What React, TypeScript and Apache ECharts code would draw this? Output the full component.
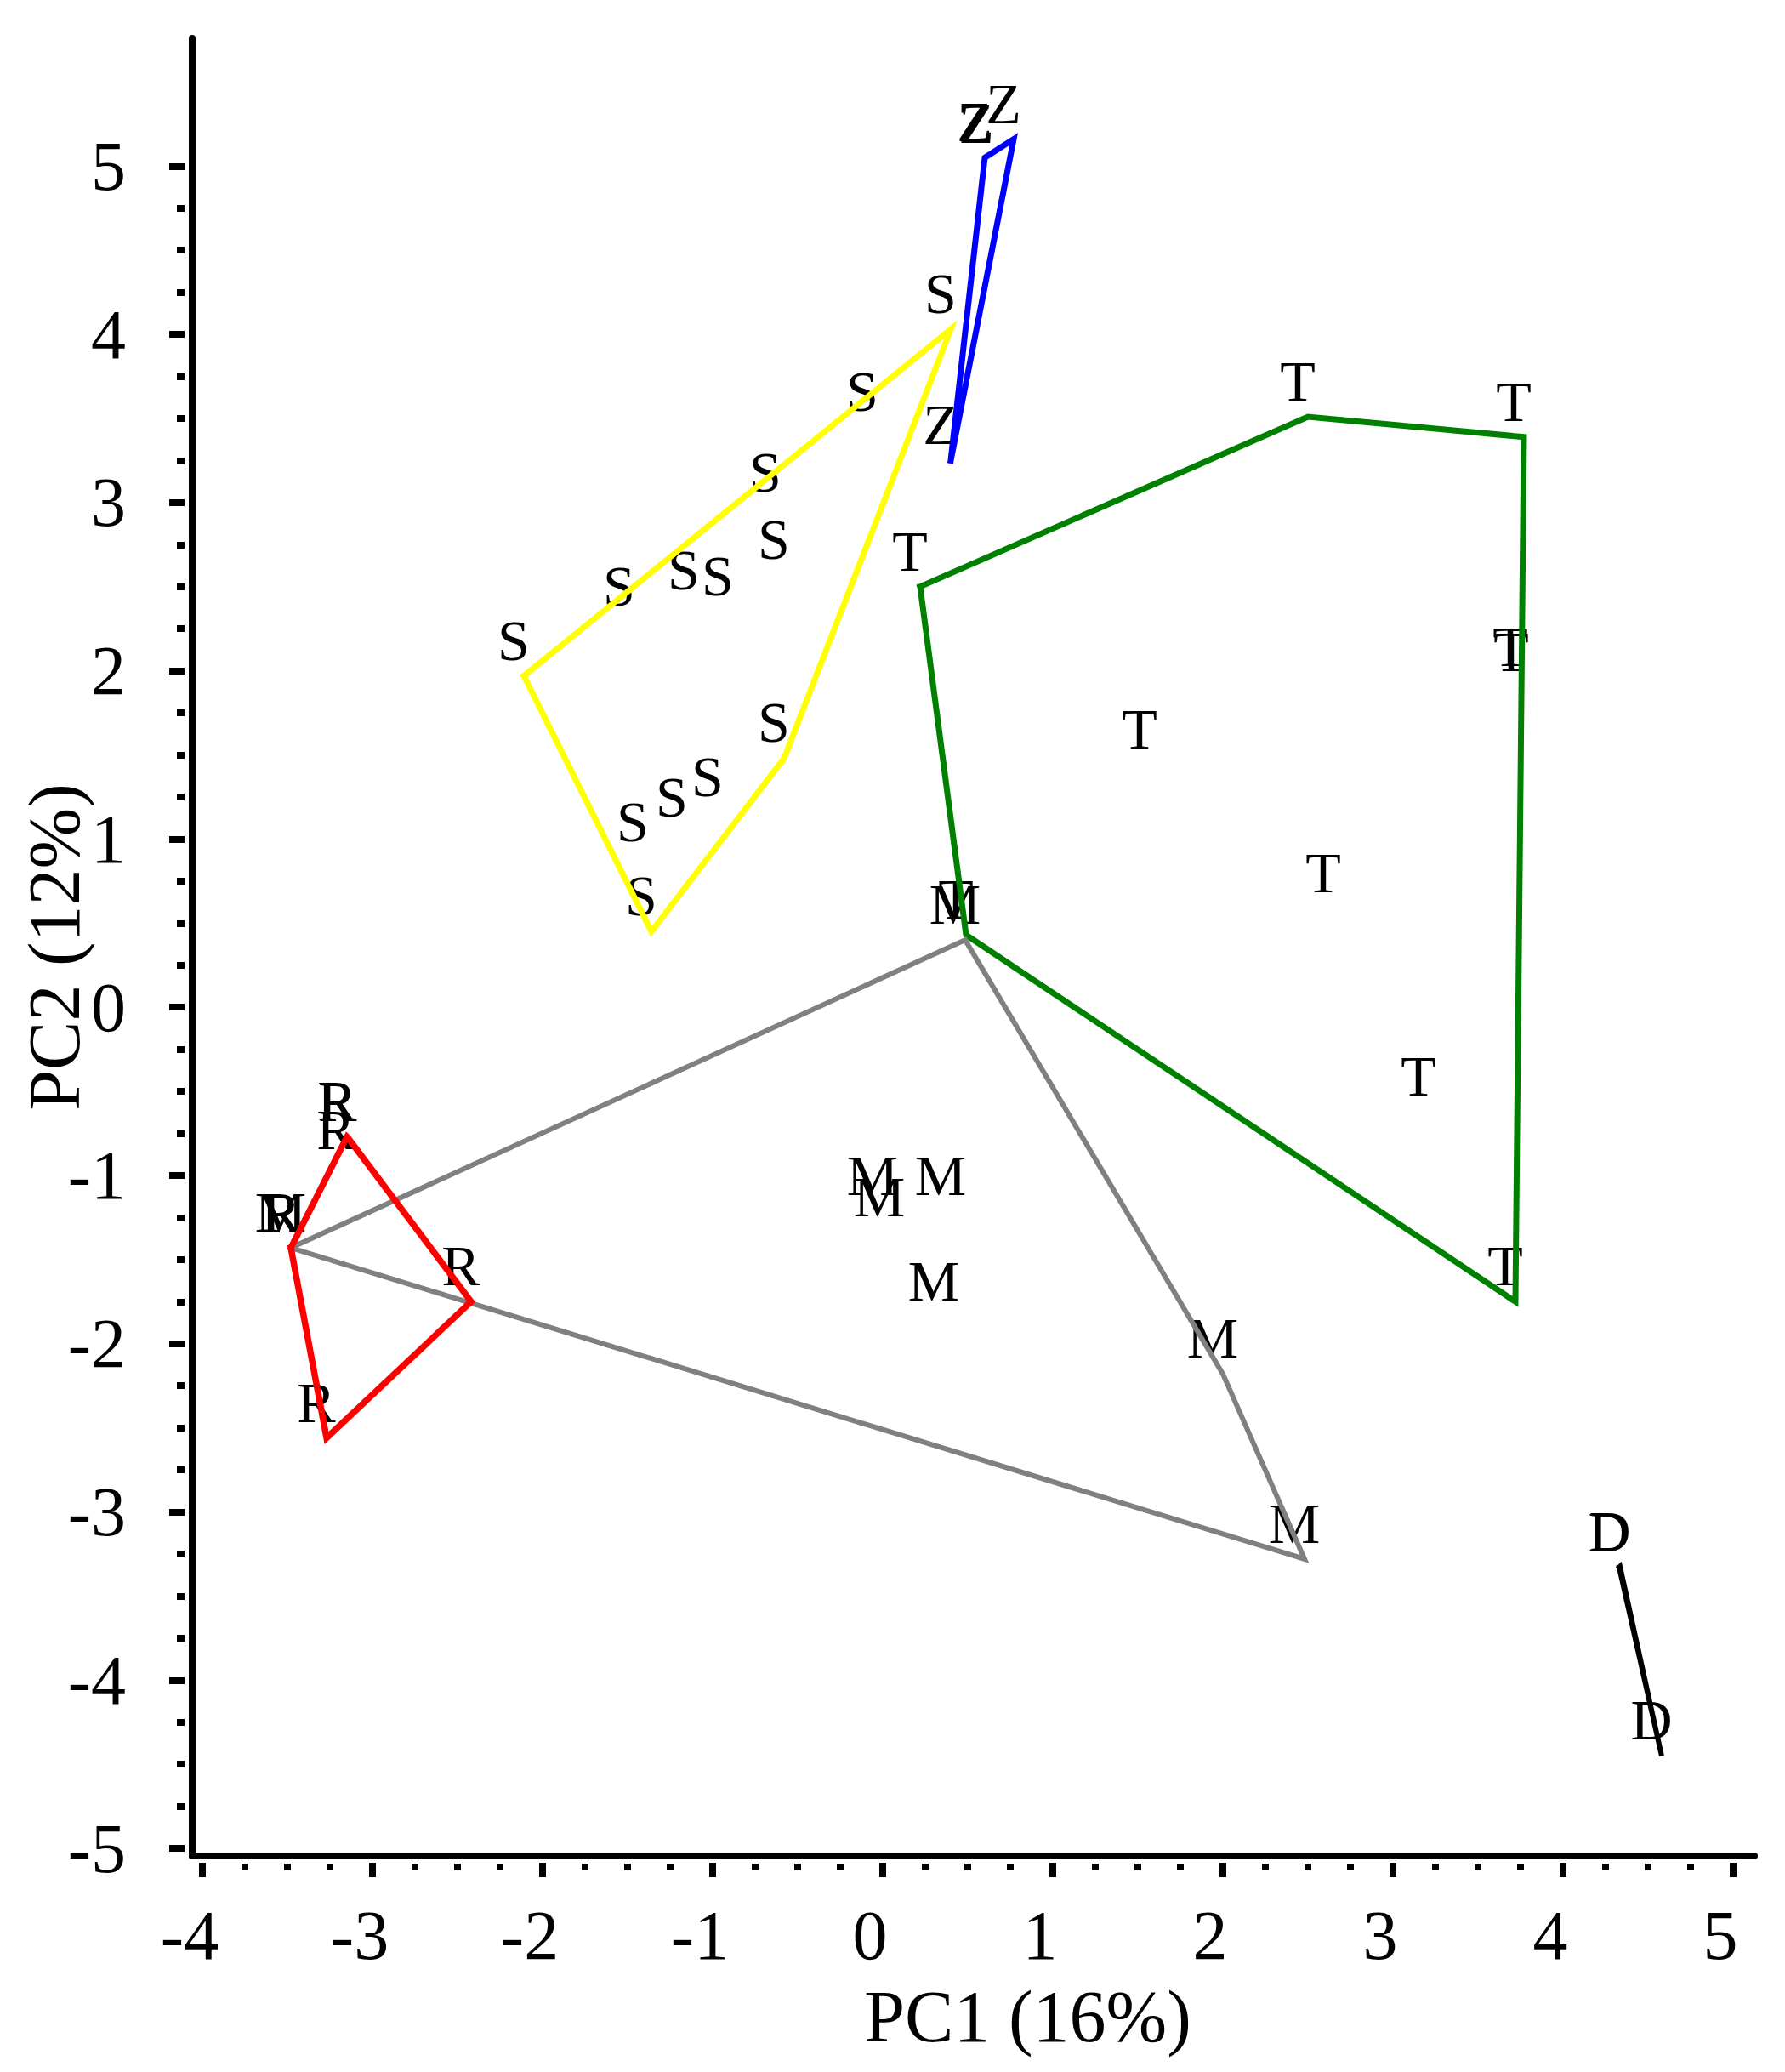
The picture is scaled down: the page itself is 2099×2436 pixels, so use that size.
import React, { useEffect, useRef } from 'react';
import * as echarts from 'echarts';

// ---- data (PC1, PC2) per group ----
const sPoints = [
  [-2.11, 1.97], [0.40, 4.03], [-0.06, 3.45], [-0.63, 2.97], [-0.58, 2.57],
  [-1.49, 2.29], [-1.11, 2.39], [-0.91, 2.35], [-0.58, 1.48], [-0.97, 1.16],
  [-1.18, 1.04], [-1.41, 0.89], [-1.36, 0.45],
];
const zPoints = [[0.61, 5.04], [0.60, 5.05], [0.77, 5.16], [0.40, 3.25]];
const tPoints = [
  [2.50, 3.51], [3.77, 3.39], [0.22, 2.50], [3.755, 1.90], [3.75, 1.93],
  [1.57, 1.44], [2.65, 0.59], [0.49, 0.43], [3.21, -0.62], [3.72, -1.75],
];
const mPoints = [
  [0.485, 0.40], [0.0, -1.21], [0.04, -1.34], [0.40, -1.21], [0.36, -1.84],
  [2.00, -2.18], [2.48, -3.28], [-3.48, -1.43],
];
const rPoints = [
  [-3.48, -1.43], [-3.475, -1.435], [-3.15, -0.77], [-3.145, -0.775], [-3.155, -0.94],
  [-2.42, -1.75], [-3.27, -2.56],
];
const dPoints = [[4.33, -3.33], [4.335, -3.325], [4.58, -4.45]];

const groupLetters = ['S', 'Z', 'T', 'M', 'R', 'D'];
const groupPoints = [sPoints, zPoints, tPoints, mPoints, rPoints, dPoints];
const hullColors = ['#FFFF00', '#0000FF', '#008000', '#808080', '#FF0000', '#000000'];
const hullWidths = [7, 7, 7, 6, 7.5, 6];

// ---- axes ----
const X_MIN = -4.06;
const X_MAX = 5.125;
const Y_MIN = -5.045;
const Y_MAX = 5.76;
const xTicks = [-4, -3, -2, -1, 0, 1, 2, 3, 4, 5];
const yTicks = [-5, -4, -3, -2, -1, 0, 1, 2, 3, 4, 5];
const quarterSteps = [0.25, 0.5, 0.75];

function minorOf(major: number[]): number[] {
  const out: number[] = [];
  for (let i = 0; i < major.length - 1; i++) {
    for (const q of quarterSteps) out.push(major[i] + q);
  }
  return out;
}

function hull(pts: number[][]): number[][] {
  const p = pts.map((a) => [a[0], a[1]]).sort((a, b) => a[0] - b[0] || a[1] - b[1]);
  const cross = (o: number[], a: number[], b: number[]) =>
    (a[0] - o[0]) * (b[1] - o[1]) - (a[1] - o[1]) * (b[0] - o[0]);
  const lower: number[][] = [];
  for (const q of p) {
    while (lower.length >= 2 && cross(lower[lower.length - 2], lower[lower.length - 1], q) <= 0) lower.pop();
    lower.push(q);
  }
  const upper: number[][] = [];
  for (let i = p.length - 1; i >= 0; i--) {
    const q = p[i];
    while (upper.length >= 2 && cross(upper[upper.length - 2], upper[upper.length - 1], q) <= 0) upper.pop();
    upper.push(q);
  }
  upper.pop();
  lower.pop();
  const h = lower.concat(upper);
  h.push(h[0]);
  return h;
}

const FONT = '"Liberation Serif", "Times New Roman", serif';

export default function App() {
  const ref = useRef<HTMLDivElement>(null);
  useEffect(() => {
    if (!ref.current) return;
    const chart = echarts.init(ref.current, undefined, { renderer: 'svg' });

    const hullSeries = groupPoints.map((pts, i) => ({
      type: 'line',
      name: groupLetters[i] + '-hull',
      data: hull(pts),
      showSymbol: false,
      symbol: 'none',
      silent: true,
      clip: false,
      z: 5,
      lineStyle: { color: hullColors[i], width: hullWidths[i], join: 'miter', cap: 'square', opacity: 1 },
    }));

    const pointSeries = groupPoints.map((pts, i) => ({
      type: 'scatter',
      name: groupLetters[i],
      data: pts,
      symbol: 'circle',
      symbolSize: 1,
      silent: true,
      clip: false,
      z: 2,
      itemStyle: { color: 'rgba(0,0,0,0)', opacity: 1 },
      label: {
        show: true,
        position: 'inside',
        formatter: groupLetters[i],
        offset: [-12, -42],
        align: 'center',
        verticalAlign: 'middle',
        fontSize: 68,
        fontFamily: FONT,
        color: '#000',
        opacity: 1,
        textBorderWidth: 0,
      },
    }));

    const option: any = {
      animation: false,
      backgroundColor: '#fff',
      grid: { left: 226, right: 36, top: 45, bottom: 254, containLabel: false, outerBoundsMode: 'none' },
      xAxis: [
        {
          type: 'value',
          min: X_MIN,
          max: X_MAX,
          position: 'bottom',
          axisLine: { show: true, onZero: false, lineStyle: { color: '#000', width: 8 } },
          axisTick: {
            show: true,
            customValues: xTicks,
            length: 25,
            lineStyle: { color: '#000', width: 8, type: [0, 8, 17, 100] },
          },
          axisLabel: {
            show: true,
            customValues: xTicks,
            margin: 52,
            fontSize: 82,
            fontFamily: FONT,
            color: '#000',
            padding: [0, 30, 0, 0],
            formatter: (v: number) => String(v),
          },
          splitLine: { show: false },
          name: 'PC1 (16%)',
          nameLocation: 'middle',
          nameGap: 146,
          nameMoveOverlap: false,
          nameTextStyle: { fontSize: 86, fontFamily: FONT, color: '#000', padding: [0, 0, 0, 128] },
        },
        {
          type: 'value',
          min: X_MIN,
          max: X_MAX,
          position: 'bottom',
          axisLine: { show: false, onZero: false },
          axisTick: {
            show: true,
            customValues: minorOf(xTicks),
            length: 17,
            lineStyle: { color: '#000', width: 8, type: [0, 9, 8, 100] },
          },
          axisLabel: { show: false },
          splitLine: { show: false },
        },
      ],
      yAxis: [
        {
          type: 'value',
          min: Y_MIN,
          max: Y_MAX,
          position: 'left',
          axisLine: { show: true, onZero: false, lineStyle: { color: '#000', width: 8 } },
          axisTick: {
            show: true,
            customValues: yTicks,
            length: 27,
            lineStyle: { color: '#000', width: 8, type: [0, 9, 18, 100] },
          },
          axisLabel: {
            show: true,
            customValues: yTicks,
            margin: 78,
            fontSize: 82,
            fontFamily: FONT,
            color: '#000',
            padding: [26, 0, 0, 0],
            formatter: (v: number) => String(v),
          },
          splitLine: { show: false },
          name: 'PC2 (12%)',
          nameLocation: 'middle',
          nameRotate: 90,
          nameGap: 119,
          nameMoveOverlap: false,
          nameTextStyle: { fontSize: 86, fontFamily: FONT, color: '#000' },
        },
        {
          type: 'value',
          min: Y_MIN,
          max: Y_MAX,
          position: 'left',
          axisLine: { show: false, onZero: false },
          axisTick: {
            show: true,
            customValues: minorOf(yTicks),
            length: 18,
            lineStyle: { color: '#000', width: 8, type: [0, 9, 9, 100] },
          },
          axisLabel: { show: false },
          splitLine: { show: false },
        },
      ],
      series: [...pointSeries, ...hullSeries],
    };
    chart.setOption(option);
    return () => chart.dispose();
  }, []);

  return (
    <div
      ref={ref}
      style={{ position: 'absolute', left: 0, top: 0, width: 2099, height: 2436, background: '#fff' }}
    />
  );
}
